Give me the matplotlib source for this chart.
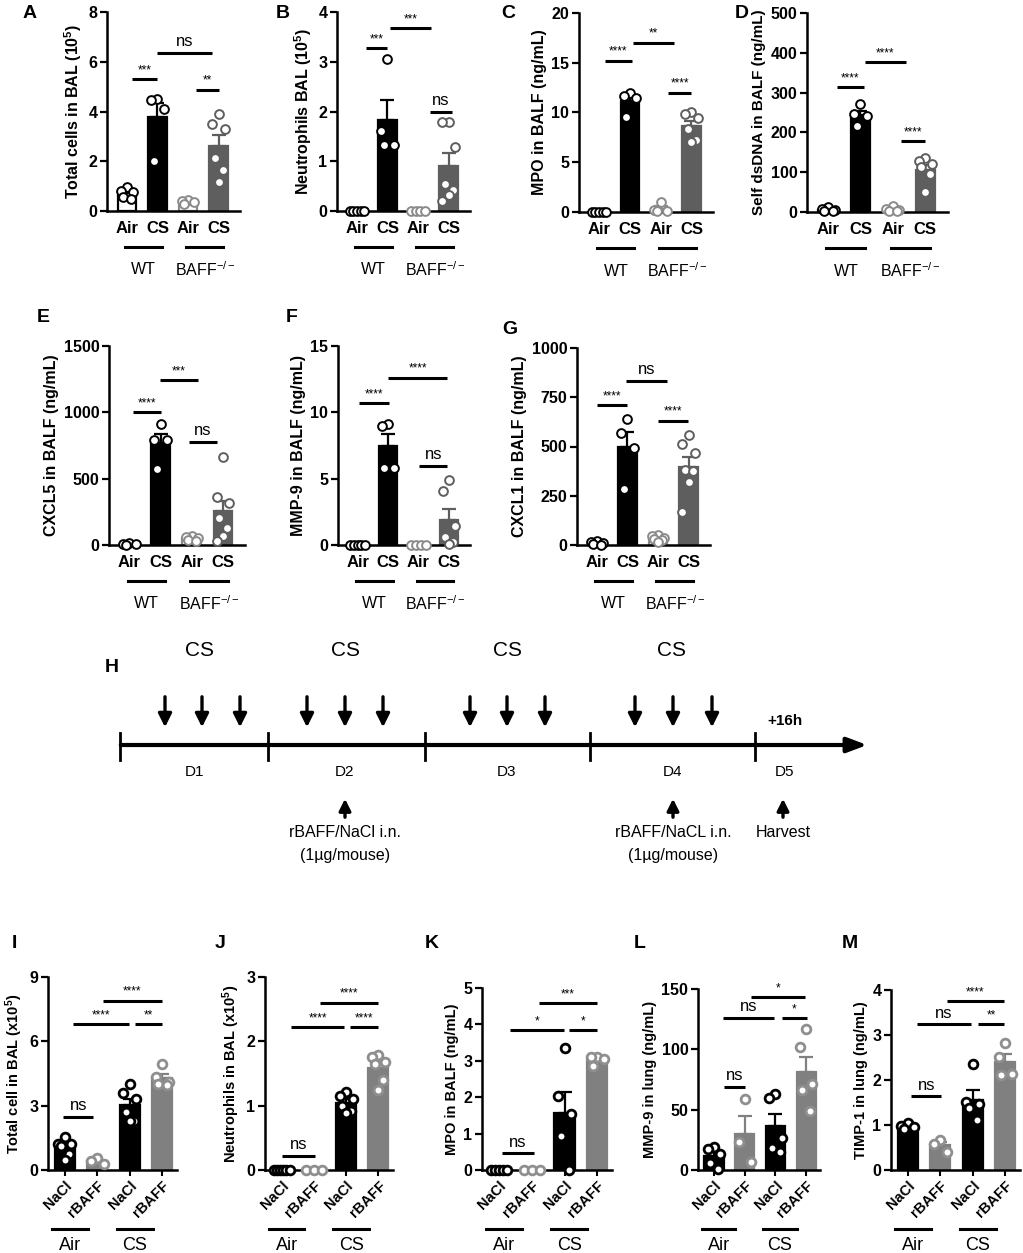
import matplotlib
matplotlib.use("Agg")
import matplotlib.pyplot as plt
import numpy as np

plt.rcParams.update({
    "font.family": ["Liberation Sans", "DejaVu Sans"],
    "mathtext.fontset": "custom",
    "mathtext.rm": "Liberation Sans",
    "mathtext.bf": "Liberation Sans:bold",
    "mathtext.it": "Liberation Sans:italic",
})

W, H = 1023, 1253

# ---------------- data: top rows (WT / BAFF-/-) ----------------
TOP_CATS = ["Air", "CS", "Air", "CS"]

A_VALS = [[0.95, 0.8, 0.75, 0.55, 0.5], [4.45, 4.5, 4.1, 2.0],
          [0.45, 0.4, 0.35, 0.3], [3.9, 3.5, 3.3, 2.15, 1.65, 1.15]]
B_VALS = [[0, 0, 0, 0, 0], [3.05, 1.6, 1.33, 1.33],
          [0, 0, 0, 0], [1.78, 1.78, 1.29, 0.55, 0.42, 0.33, 0.21]]
C_VALS = [[0, 0, 0, 0, 0], [12.0, 11.7, 11.5, 9.5],
          [1.0, 0.2, 0.1, 0.1], [9.8, 10.0, 9.4, 8.3, 7.0, 7.2]]
D_VALS = [[12, 5, 2, 8, 3], [272, 240, 245, 215],
          [14, 8, 3, 5, 2], [135, 128, 120, 112, 95, 50]]
E_VALS = [[10, 5, 0, 15], [910, 795, 790, 575],
          [70, 60, 50, 40, 30], [660, 360, 320, 200, 130, 70, 30]]
F_VALS = [[0, 0, 0, 0, 0], [9.15, 8.95, 5.8, 5.8],
          [0, 0, 0, 0], [4.9, 4.1, 1.4, 0.6, 0.2, 0.1]]
G_VALS = [[10, 5, 0, 15, 20], [640, 570, 490, 285],
          [45, 35, 25, 50, 15, 30], [560, 515, 465, 380, 375, 320, 170]]

# ---------------- data: bottom row (NaCl / rBAFF) ----------------
BOT_CATS = ["NaCl", "rBAFF", "NaCl", "rBAFF"]

I_VALS = [[1.55, 1.2, 1.1, 0.75, 0.45, 1.2], [0.55, 0.4, 0.3],
          [4.0, 3.6, 3.3, 2.7, 2.3, 2.3], [4.95, 4.35, 4.1, 4.0, 3.95]]
J_VALS = [[0, 0, 0, 0, 0, 0], [0, 0, 0],
          [1.22, 1.15, 1.1, 1.0, 0.92, 0.88], [1.78, 1.75, 1.68, 1.65, 1.4, 1.24]]
K_VALS = [[0, 0, 0, 0, 0], [0, 0, 0],
          [3.35, 2.04, 1.53, 0.94, 0.0], [3.1, 3.1, 3.05, 2.85]]
L_VALS = [[19, 17, 13, 6, 1], [58.7, 23, 7],
          [63, 59.6, 26.3, 18.6, 15.2], [117, 102, 71.5, 66, 49]]
M_VALS = [[1.05, 0.98, 0.95, 0.92], [0.66, 0.58, 0.41],
          [2.35, 1.52, 1.46, 1.37, 1.11], [2.83, 2.52, 2.13, 2.11]]

# significance: (x_start, x_end, y, label)
A_SIG = [(0.17, 1.0, 5.3, "***"), (0.97, 2.8, 6.35, "ns"), (2.27, 3.0, 4.88, "**")]
B_SIG = [(0.3, 1.0, 3.27, "***"), (1.07, 2.44, 3.67, "***"), (2.39, 3.1, 1.99, "ns")]
C_SIG = [(0.2, 1.06, 15.2, "****"), (1.1, 2.45, 17.0, "**"), (2.25, 3.0, 12.0, "****")]
D_SIG = [(0.28, 1.1, 314, "****"), (1.13, 2.4, 377, "****"), (2.25, 3.0, 178, "****")]
E_SIG = [(0.12, 1.0, 1000, "****"), (0.97, 2.2, 1240, "***"), (1.9, 2.8, 780, "ns")]
F_SIG = [(0.03, 1.03, 10.7, "****"), (1.0, 2.95, 12.6, "****"), (2.03, 2.95, 5.95, "ns")]
G_SIG = [(0.0, 0.97, 711, "****"), (0.95, 2.3, 832, "ns"), (2.0, 2.97, 630, "****")]
I_SIG = [(-0.05, 0.88, 2.46, "ns"), (0.25, 1.97, 6.8, "****"), (2.16, 3.0, 6.8, "**"),
         (1.16, 3.0, 7.9, "****")]
J_SIG = [(0.0, 1.03, 0.22, "ns"), (0.3, 1.94, 2.22, "****"), (2.12, 3.0, 2.22, "****"),
         (1.18, 3.0, 2.6, "****")]
K_SIG = [(0.09, 1.06, 0.46, "ns"), (0.33, 1.97, 3.84, "*"), (2.15, 3.0, 3.84, "*"),
         (1.21, 3.0, 4.59, "***")]
L_SIG = [(0.33, 1.0, 69, "ns"), (0.3, 1.95, 126, "ns"), (2.2, 3.03, 126, "*"),
         (1.2, 2.97, 143, "*")]
M_SIG = [(0.1, 1.03, 1.64, "ns"), (0.28, 1.94, 3.24, "ns"), (2.16, 2.97, 3.24, "**"),
         (1.19, 2.97, 3.76, "****")]

TOP_FACE = ["white", "black", "white", "#5e5e5e"]
TOP_EDGE = ["black", "black", "#8a8a8a", "#5e5e5e"]
TOP_PT = ["black", "black", "#8a8a8a", "#5e5e5e"]
BOT_FACE = ["black", "#808080", "black", "#808080"]
BOT_EDGE = ["black", "#808080", "black", "#808080"]
BOT_PT = ["black", "#8f8f8f", "black", "#8f8f8f"]

fig = plt.figure(figsize=(W / 100, H / 100), dpi=100)


def px_axes(x0, x1, ytop, yzero):
    return fig.add_axes([x0 / W, 1 - yzero / H, (x1 - x0) / W, (yzero - ytop) / H])


def px_text(x, y, s, **kw):
    fig.text(x / W, 1 - y / H, s, **kw)


def offsets(vals):
    n = len(vals)
    if max(vals) - min(vals) < 1e-9:
        return np.linspace(-0.24, 0.24, n) if n > 1 else np.zeros(1)
    pat = [0.0, -0.2, 0.2, -0.12, 0.14, 0.0, -0.2, 0.2]
    return np.array(pat[:n])


def bar_panel(ax, groups, ymax, yticks, ylabel, sigs, faces, edges, ptcols,
              cats, bottom=False, xlim=(-0.65, 3.7), ylab_fs=11.5):
    means = [np.mean(g) for g in groups]
    sems = [np.std(g, ddof=1) / np.sqrt(len(g)) for g in groups]
    xs = np.arange(len(groups))
    ax.bar(xs, means, width=0.6 if not bottom else 0.62, color=faces,
           edgecolor=edges, linewidth=1.6, zorder=2)
    for x, m, s, ec in zip(xs, means, sems, edges):
        ax.errorbar(x, m, yerr=[[0], [s]], fmt="none", ecolor=ec,
                    elinewidth=1.6, capsize=5, capthick=1.6, zorder=3,
                    clip_on=False)
    lw = 2.0 if bottom else 1.4
    for x, g, pc in zip(xs, groups, ptcols):
        order = np.argsort(g)[::-1]
        gs = np.array(g)[order]
        ax.plot(x + offsets(list(gs)), gs, "o", ms=6.3, mfc="white", mec=pc,
                mew=lw, zorder=4, clip_on=False, ls="none")
    for x0, x1, y, lab in sigs:
        ax.plot([x0, x1], [y, y], color="black", lw=2.2, solid_capstyle="butt",
                zorder=5, clip_on=False)
        if lab == "ns":
            ax.text((x0 + x1) / 2, y + ymax * 0.02, lab, ha="center", va="bottom",
                    fontsize=12)
        else:
            ax.text((x0 + x1) / 2, y + ymax * 0.015, lab, ha="center", va="bottom",
                    fontsize=8.5)
    ax.set_xlim(*xlim)
    ax.set_ylim(0, ymax)
    ax.set_yticks(yticks)
    ax.set_yticklabels([str(t) for t in yticks], fontsize=11.5, fontweight="bold")
    ax.set_xticks(xs)
    if bottom:
        ax.set_xticklabels(cats, rotation=45, ha="right", rotation_mode="anchor",
                           fontsize=10.5, fontweight="bold")
        ax.tick_params(axis="x", length=4, width=1.5, pad=2)
    else:
        ax.set_xticklabels(cats, fontsize=12, fontweight="bold")
        ax.tick_params(axis="x", length=0, pad=7)
    ax.tick_params(axis="y", length=5, width=1.6, pad=2)
    for sp in ("top", "right"):
        ax.spines[sp].set_visible(False)
    for sp in ("left", "bottom"):
        ax.spines[sp].set_linewidth(1.8)
    ax.set_ylabel(ylabel, fontsize=ylab_fs, fontweight="bold", labelpad=3)


def top_groups(ax, line_y, text_y):
    tr = ax.get_xaxis_transform()
    for x0, x1, lab in [(-0.05, 1.15, "WT"), (1.95, 3.15, r"BAFF$^{-/-}$")]:
        ax.plot([x0, x1], [line_y, line_y], color="black", lw=2.2,
                transform=tr, clip_on=False)
        ax.text((x0 + x1) / 2, text_y, lab, transform=tr, ha="center",
                va="center", fontsize=11.5)


def bot_groups(ax, line_y, text_y):
    tr = ax.get_xaxis_transform()
    for x0, x1, lab in [(-0.4, 0.7, "Air"), (1.6, 2.7, "CS")]:
        ax.plot([x0, x1], [line_y, line_y], color="black", lw=2.2,
                transform=tr, clip_on=False)
        ax.text((x0 + x1) / 2, text_y, lab, transform=tr, ha="center",
                va="center", fontsize=13)


# ---------------- top rows A-G ----------------
top_specs = [
    (107, 240, 12, 211, A_VALS, 8, [0, 2, 4, 6, 8], r"Total cells in BAL (10$^{\mathbf{5}}$)", A_SIG, 11.5),
    (337, 470, 12, 211, B_VALS, 4, [0, 1, 2, 3, 4], r"Neutrophils BAL (10$^{\mathbf{5}}$)", B_SIG, 11.5),
    (579, 713, 13, 212, C_VALS, 20, [0, 5, 10, 15, 20], "MPO in BALF (ng/mL)", C_SIG, 11.5),
    (807, 948, 13, 212, D_VALS, 500, [0, 100, 200, 300, 400, 500], "Self dsDNA in BALF (ng/mL)", D_SIG, 11),
    (109, 245, 346, 545, E_VALS, 1500, [0, 500, 1000, 1500], "CXCL5 in BALF (ng/mL)", E_SIG, 11.5),
    (338, 470, 346, 545, F_VALS, 15, [0, 5, 10, 15], "MMP-9 in BALF (ng/mL)", F_SIG, 11.5),
    (577, 710, 348, 545, G_VALS, 1000, [0, 250, 500, 750, 1000], "CXCL1 in BALF (ng/mL)", G_SIG, 11.5),
]
for x0, x1, yt, yz, vals, ymax, ticks, lab, sig, fs in top_specs:
    ax = px_axes(x0, x1, yt, yz)
    bar_panel(ax, vals, ymax, ticks, lab, sig, TOP_FACE, TOP_EDGE, TOP_PT, TOP_CATS,
              ylab_fs=fs)
    h = yz - yt
    top_groups(ax, -(247 - 211) / h, -(270 - 211) / h)

# ---------------- bottom row I-M ----------------
bot_specs = [
    (48, 177, 977, 1170, I_VALS, 9, [0, 3, 6, 9], r"Total cell in BAL (x10$^{\mathbf{5}}$)", I_SIG),
    (265, 393, 977, 1170, J_VALS, 3, [0, 1, 2, 3], r"Neutrophils in BAL (x10$^{\mathbf{5}}$)", J_SIG),
    (482, 612, 988, 1170, K_VALS, 5, [0, 1, 2, 3, 4, 5], "MPO in BALF (ng/mL)", K_SIG),
    (698, 820, 989, 1170, L_VALS, 150, [0, 50, 100, 150], "MMP-9 in lung (ng/mL)", L_SIG),
    (891, 1020, 990, 1170, M_VALS, 4, [0, 1, 2, 3, 4], "TIMP-1 in lung (ng/mL)", M_SIG),
]
for x0, x1, yt, yz, vals, ymax, ticks, lab, sig in bot_specs:
    ax = px_axes(x0, x1, yt, yz)
    bar_panel(ax, vals, ymax, ticks, lab, sig, BOT_FACE, BOT_EDGE, BOT_PT, BOT_CATS,
              bottom=True, xlim=(-0.52, 3.45), ylab_fs=10.5)
    h = yz - yt
    bot_groups(ax, -(1229 - 1170) / h, -(1246 - 1170) / h)

# ---------------- panel letters ----------------
for x, y, s in [(30, 14, "A"), (283, 14, "B"), (508, 14, "C"), (742, 14, "D"),
                (43, 317, "E"), (292, 317, "F"), (510, 329, "G"), (112, 668, "H"),
                (14, 943, "I"), (220, 943, "J"), (432, 943, "K"), (640, 943, "L"),
                (850, 943, "M")]:
    px_text(x, y, s, fontsize=14, fontweight="bold", ha="center", va="center")

# ---------------- panel H timeline ----------------
axh = fig.add_axes([0, 1 - 880 / H, 1, (880 - 620) / H])
axh.set_xlim(0, W)
axh.set_ylim(880, 620)
axh.axis("off")

DAY_BOUNDS = [120, 268, 425, 590, 755]
DAY_LABELS = ["D1", "D2", "D3", "D4", "D5"]
DAY_LABEL_X = [195, 345, 507, 672, 785]
CS_X = [200, 345, 507, 672]
CS_ARROWS = [[165, 202, 240], [307, 345, 383], [470, 507, 545], [635, 673, 712]]
UP_X = [345, 673, 783]
UP_TEXT = [["rBAFF/NaCl i.n.", "(1\u00b5g/mouse)"], ["rBAFF/NaCL i.n.", "(1\u00b5g/mouse)"],
           ["Harvest"]]

axh.annotate("", xy=(870, 745), xytext=(118, 745),
             arrowprops=dict(arrowstyle="-|>,head_length=1.2,head_width=0.45",
                             color="black", lw=3))
for bx in DAY_BOUNDS:
    axh.plot([bx, bx], [733, 760], color="black", lw=2)
for lx, lab in zip(DAY_LABEL_X, DAY_LABELS):
    axh.text(lx, 772, lab, ha="center", va="center", fontsize=11)
for cx in CS_X:
    axh.text(cx, 651, "CS", ha="center", va="center", fontsize=15)
for grp in CS_ARROWS:
    for ax_ in grp:
        axh.annotate("", xy=(ax_, 730), xytext=(ax_, 694),
                     arrowprops=dict(arrowstyle="-|>,head_length=0.8,head_width=0.4",
                                     color="black", lw=2.4))
axh.text(785, 721, "+16h", ha="center", va="center", fontsize=11, fontweight="bold")
for ux, lines in zip(UP_X, UP_TEXT):
    axh.annotate("", xy=(ux, 796), xytext=(ux, 820),
                 arrowprops=dict(arrowstyle="-|>,head_length=0.7,head_width=0.35",
                                 color="black", lw=2.4))
    for k, t in enumerate(lines):
        axh.text(ux, 833 + 23 * k, t, ha="center", va="center", fontsize=11.5)

fig.savefig("out.png", dpi=100)
